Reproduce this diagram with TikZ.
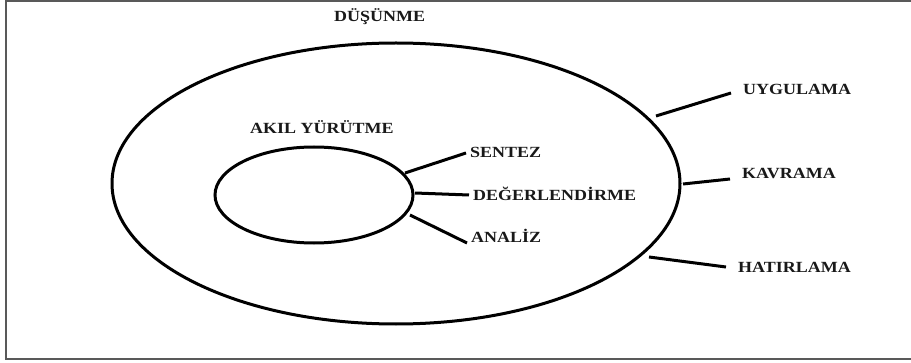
\documentclass[tikz,border=0pt]{standalone}
\usepackage{fontspec}
\newfontfamily\lblfont{Liberation Serif}[FakeStretch=1.16]
\usetikzlibrary{shapes.geometric}
\tikzset{
  ring/.style={draw=black, ellipse, line width=3pt, inner sep=0pt},
  conn/.style={draw=black, line width=3pt},
  lbl/.style={font=\lblfont\bfseries\fontsize{15.5pt}{15.5pt}\selectfont, text=black!90,
              anchor=west, text height=10pt, text depth=0pt, inner ysep=0pt},
  outerlbl/.style={lbl, inner xsep=12pt},
  innerlbl/.style={lbl, inner xsep=4pt},
  frame/.style={draw=black!65, line width=2pt}
}
\begin{document}
\begin{tikzpicture}[x=1pt,y=1pt]
\useasboundingbox (0,0) rectangle (911,362);
\fill[white] (0,0) rectangle (911,362);
% frame
\coordinate (ftr) at (911,361);
\coordinate (ftl) at (5.5,361);
\coordinate (fbl) at (5.5,3.5);
\coordinate (fbr) at (911,3.5);
\draw[frame] (ftr) -- (ftl) -- (fbl) -- (fbr);
% ellipses
\node[ring, minimum width=568pt, minimum height=281pt] (outer) at (396,178.5) {};
\node[ring, minimum width=198pt, minimum height=96pt] (inner) at (314,167) {};
% titles
\node[lbl, inner xsep=0pt] (dus) at (334,345) {DÜŞÜNME};
\node[lbl, inner xsep=0pt] (akil) at (250,233) {AKIL YÜRÜTME};
% outer labels
\node[outerlbl] (uyg) at (731,272) {UYGULAMA};
\node[outerlbl] (kav) at (730,188) {KAVRAMA};
\node[outerlbl] (hat) at (726,95) {HATIRLAMA};
% inner labels
\node[innerlbl] (sen) at (466,209) {SENTEZ};
\node[innerlbl] (deg) at (469,166) {DEĞERLENDİRME};
\node[innerlbl] (ana) at (467,124) {ANALİZ};
% connector start points
\coordinate (suyg) at (656,246);
\coordinate (skav) at (683,178);
\coordinate (shat) at (649,105);
\coordinate (ssen) at (405,189);
\coordinate (sdeg) at (415,169);
\coordinate (sana) at (410,147);
% connectors
\draw[conn] (suyg) -- ([yshift=-3pt]uyg.west);
\draw[conn] (skav) -- ([yshift=-5pt]kav.west);
\draw[conn] (shat) -- (hat.west);
\draw[conn] (ssen) -- (sen.west);
\draw[conn] (sdeg) -- ([yshift=1pt]deg.west);
\draw[conn] (sana) -- ([yshift=-5pt]ana.west);
\end{tikzpicture}
\end{document}
